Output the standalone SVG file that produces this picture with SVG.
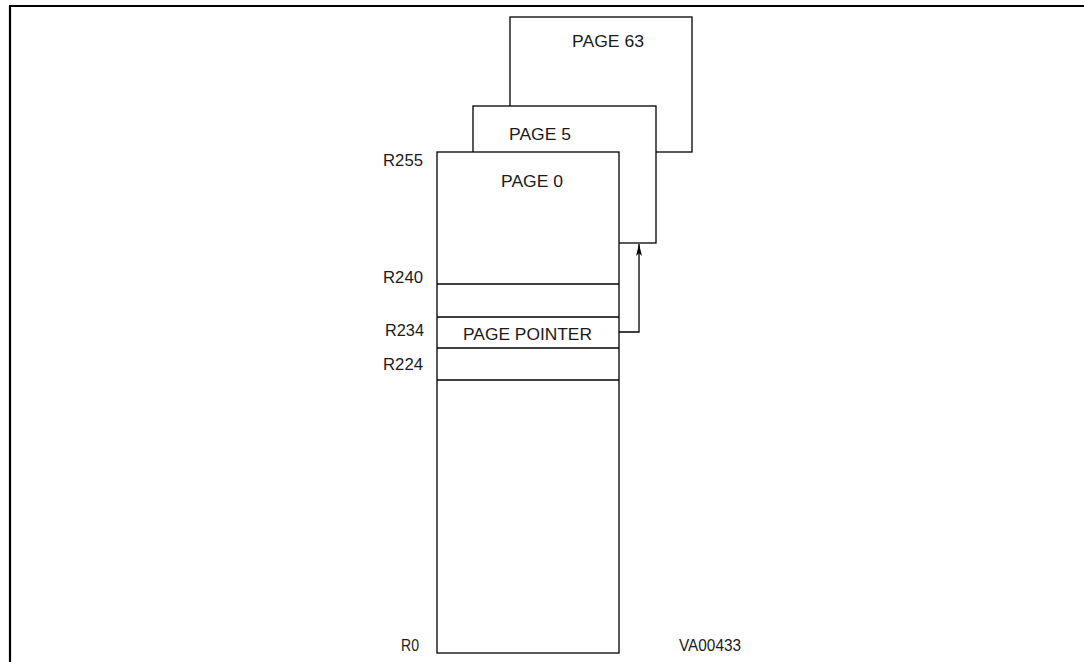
<svg xmlns="http://www.w3.org/2000/svg" width="1084" height="662" viewBox="0 0 1084 662">
<defs>
<style>
.box{fill:#fff;stroke:#000;stroke-width:1.3}
.ln{fill:none;stroke:#000;stroke-width:1.3}
.frame{fill:none;stroke:#000;stroke-width:2.2}
.t{font-family:"Liberation Sans",Arial,sans-serif;font-size:16px;fill:#1a1a1a}
</style>
<marker id="ah" viewBox="0 0 12 6" refX="12" refY="3" markerWidth="12" markerHeight="6" markerUnits="userSpaceOnUse" orient="auto">
<path d="M12,3 L0,0 L3,3 L0,6 Z" fill="#000"/>
</marker>
</defs>
<rect width="1084" height="662" fill="#fff"/>
<g id="frame">
<path class="frame" d="M10,662 V6 H1084"/>
</g>
<g id="page63">
<rect class="box" x="510" y="17" width="182" height="135"/>
<text class="t" x="572" y="47" textLength="72" lengthAdjust="spacingAndGlyphs">PAGE 63</text>
</g>
<g id="page5">
<rect class="box" x="473" y="106" width="183" height="137"/>
<text class="t" x="509" y="140" textLength="62" lengthAdjust="spacingAndGlyphs">PAGE 5</text>
</g>
<g id="page0">
<rect class="box" x="437" y="152" width="182" height="501"/>
<text class="t" x="501" y="187" textLength="62" lengthAdjust="spacingAndGlyphs">PAGE 0</text>
<line class="ln" x1="437" y1="284" x2="619" y2="284"/>
<line class="ln" x1="437" y1="317" x2="619" y2="317"/>
<line class="ln" x1="437" y1="348" x2="619" y2="348"/>
<line class="ln" x1="437" y1="380" x2="619" y2="380"/>
<text class="t" x="463" y="340" textLength="129" lengthAdjust="spacingAndGlyphs">PAGE POINTER</text>
</g>
<g id="labels">
<text class="t" x="383" y="166" textLength="40" lengthAdjust="spacingAndGlyphs">R255</text>
<text class="t" x="383" y="283" textLength="40" lengthAdjust="spacingAndGlyphs">R240</text>
<text class="t" x="385" y="336" textLength="39" lengthAdjust="spacingAndGlyphs">R234</text>
<text class="t" x="383" y="370" textLength="40" lengthAdjust="spacingAndGlyphs">R224</text>
<text class="t" x="401" y="651" textLength="18" lengthAdjust="spacingAndGlyphs">R0</text>
<text class="t" x="679" y="651" textLength="62" lengthAdjust="spacingAndGlyphs">VA00433</text>
</g>
<g id="connectors">
<path class="ln" d="M619,332 H639 V244" marker-end="url(#ah)"/>
</g>
</svg>
